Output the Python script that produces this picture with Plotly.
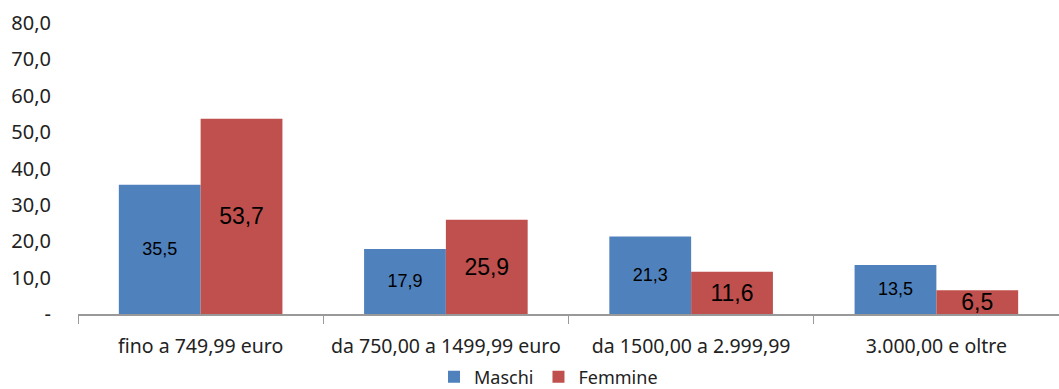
import plotly.graph_objects as go

categories = ["fino a 749,99 euro", "da 750,00 a 1499,99 euro", "da 1500,00 a 2.999,99", "3.000,00 e oltre"]
maschi = [35.5, 17.9, 21.3, 13.5]
femmine = [53.7, 25.9, 11.6, 6.5]
ytickvals = [0, 10, 20, 30, 40, 50, 60, 70, 80]
yticktext = ["-", "10,0", "20,0", "30,0", "40,0", "50,0", "60,0", "70,0", "80,0"]

def fmt(v):
    return f"{v:.1f}".replace(".", ",")

fig = go.Figure()
fig.add_trace(go.Bar(
    name="Maschi", x=categories, y=maschi,
    marker=dict(color="#4F81BD", line=dict(width=0)),
    text=[fmt(v) for v in maschi], textposition="inside", insidetextanchor="middle",
    textangle=0, constraintext="none", cliponaxis=False,
    textfont=dict(family="Liberation Sans, Arial", size=18, color="#000000"),
))
fig.add_trace(go.Bar(
    name="Femmine", x=categories, y=femmine,
    marker=dict(color="#C0504D", line=dict(width=0)),
    text=[fmt(v) for v in femmine], textposition="inside", insidetextanchor="middle",
    textangle=0, constraintext="none", cliponaxis=False,
    textfont=dict(family="Liberation Sans, Arial", size=23, color="#000000"),
))
fig.update_layout(
    width=1059, height=389,
    margin=dict(l=78, r=0, t=23, b=75, autoexpand=False),
    paper_bgcolor="white", plot_bgcolor="white",
    barmode="group", bargap=0.333, bargroupgap=0,
    uniformtext=dict(mode=False),
    font=dict(family="Noto Sans, Open Sans", size=19, color="#222222"),
    showlegend=True,
    legend=dict(orientation="h", x=(434 - 78) / 981, xref="paper", xanchor="left",
                y=0.031, yref="container", yanchor="middle",
                font=dict(size=18), traceorder="normal", itemwidth=30,
                tracegroupgap=0),
)
fig.update_xaxes(
    showline=True, linecolor="#999999", linewidth=1.5,
    ticks="outside", tickson="boundaries", ticklen=8, tickcolor="#999999",
    showgrid=False, tickfont=dict(size=19.5), ticklabelstandoff=14,
)
fig.update_yaxes(
    range=[0, 80], tickvals=ytickvals, ticktext=yticktext,
    showgrid=False, showline=False, zeroline=False, ticks="",
    ticklabelstandoff=26, tickfont=dict(size=20),
)
fig.write_html("out.html")
